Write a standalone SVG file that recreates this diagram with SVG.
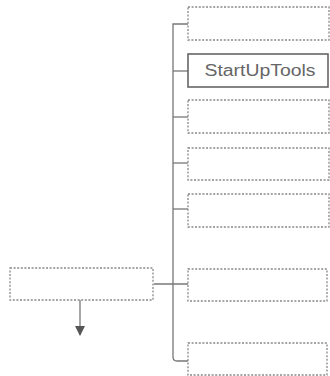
<svg xmlns="http://www.w3.org/2000/svg" width="330" height="376" viewBox="0 0 330 376">
<style>
.dot{fill:#fff;stroke:#888;stroke-width:1.3;stroke-dasharray:2 1.6}
.solid{fill:#fff;stroke:#666;stroke-width:1.6}
.conn{fill:none;stroke:#777;stroke-width:1.3}
.lbl{font-family:"Liberation Sans",Arial,sans-serif;font-size:16px;fill:#666}
</style>
<defs>
<marker id="ah" viewBox="0 0 10 10" refX="9" refY="5" markerWidth="10" markerHeight="10" markerUnits="userSpaceOnUse" orient="auto">
<path d="M0,0 L10,5 L0,10 z" fill="#555"/>
</marker>
</defs>
<rect width="330" height="376" fill="#fff"/>
<g id="connectors">
<path class="conn" d="M189,24 H173 V357 Q173,361 177,361 H188"/>
<path class="conn" d="M173,71 H188"/>
<path class="conn" d="M173,117 H188"/>
<path class="conn" d="M173,163 H188"/>
<path class="conn" d="M173,209 H188"/>
<path class="conn" d="M154,284 H188"/>
<path class="conn" d="M80,300 V335" marker-end="url(#ah)" stroke="#555"/>
</g>
<g id="box1"><rect class="dot" x="188" y="7" width="141" height="33"/></g>
<g id="startuptools"><rect class="solid" x="188" y="54" width="140" height="33"/><text class="lbl" x="260" y="76" text-anchor="middle" textLength="111" lengthAdjust="spacingAndGlyphs">StartUpTools</text></g>
<g id="box3"><rect class="dot" x="188" y="100" width="141" height="33"/></g>
<g id="box4"><rect class="dot" x="188" y="148" width="141" height="32"/></g>
<g id="box5"><rect class="dot" x="188" y="194" width="141" height="33"/></g>
<g id="box6"><rect class="dot" x="188" y="269" width="139" height="32"/></g>
<g id="box7"><rect class="dot" x="188" y="343" width="139" height="32"/></g>
<g id="left"><rect class="dot" x="10" y="268" width="143" height="32"/></g>
</svg>
